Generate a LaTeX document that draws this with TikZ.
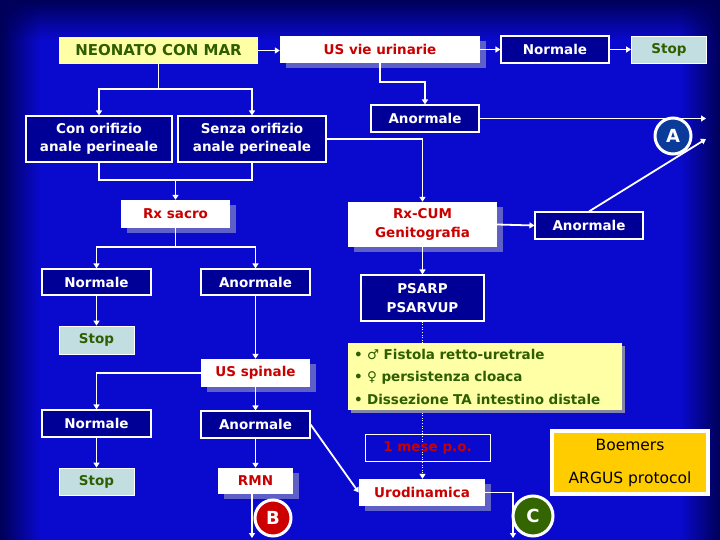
\documentclass[tikz,border=0pt]{standalone}
\usepackage{fontspec}
\setmainfont{DejaVu Sans}
\usepackage{tikz}
\usetikzlibrary{positioning,arrows.meta,shadows,fadings}
\definecolor{slidebg}{HTML}{0A0ACF}
\definecolor{slidedark}{HTML}{000058}
\definecolor{boxnavy}{HTML}{000096}
\definecolor{paleyel}{HTML}{FFFFA6}
\definecolor{stopcyan}{HTML}{C2DEE0}
\definecolor{txtred}{HTML}{C80000}
\definecolor{txtgreen}{HTML}{2E5E00}
\definecolor{shadowblue}{HTML}{5F5FC8}
\definecolor{shadowgray}{HTML}{8484A8}
\definecolor{boemgold}{HTML}{FFCC00}
\definecolor{discblue}{HTML}{0A3A9A}
\definecolor{discred}{HTML}{CC0000}
\definecolor{discgreen}{HTML}{336600}
\tikzfading[name=edgeleft, left color=transparent!0, right color=transparent!100]
\tikzfading[name=edgeright, left color=transparent!100, right color=transparent!0]
\tikzfading[name=edgetop, top color=transparent!0, bottom color=transparent!100]
\newcommand\boxfont{\bfseries\fontsize{13.5}{18.5}\selectfont}

\begin{document}
\begin{tikzpicture}[
    x=1pt, y=-1pt,
    navybox/.style={draw=white, line width=1.1pt, fill=boxnavy, text=white,
        font=\boxfont, align=center, minimum width=108pt, minimum height=27pt, inner sep=2pt},
    whitebox/.style={fill=white, text=txtred, font=\boxfont, align=center,
        minimum height=27pt, inner sep=2pt,
        drop shadow={shadow xshift=6pt, shadow yshift=-5pt, fill=shadowblue, opacity=1}},
    stopbox/.style={draw=white, line width=0.8pt, fill=stopcyan, text=txtgreen,
        font=\boxfont, minimum width=75pt, minimum height=27pt, inner sep=2pt},
    letterdisc/.style={circle, draw=white, line width=3pt, minimum size=36pt,
        text=white, font=\bfseries\fontsize{18}{20}\selectfont, inner sep=0pt},
    link/.style={draw=white, line width=1.8pt},
    flow/.style={link, -{Triangle[width=6pt,length=5pt]}}
]
\useasboundingbox (0,0) rectangle (720,540);
% slide background
\fill[slidebg] (0,0) rectangle (720,540);
\fill[slidedark, path fading=edgeleft] (0,0) rectangle (40,540);
\fill[slidedark, path fading=edgeright] (680,0) rectangle (720,540);
\fill[slidedark, path fading=edgetop] (0,0) rectangle (720,40);

% top row
\node[fill=paleyel, text=txtgreen, font=\bfseries\fontsize{15}{18}\selectfont,
      minimum width=199pt, minimum height=27pt] (neonato) at (158.5,50.5) {NEONATO CON MAR};
\node[whitebox, minimum width=200pt] (usvie) at (380,49.5) {US vie urinarie};
\node[navybox] (normtop) at (555,49.5) {Normale};
\node[stopbox] (stoptop) at (669,49.5) {Stop};
\node[navybox] (anortop) at (425,118.5) {Anormale};
\coordinate (aout) at (706,117);
\coordinate (aout2) at (706,139);

% left branch
\node[navybox, minimum width=146pt, minimum height=46pt] (conorif) at (99,139) {Con orifizio\\anale perineale};
\node[navybox, minimum width=148pt, minimum height=46pt] (senza) at (252,139) {Senza orifizio\\anale perineale};
\node[whitebox, minimum width=109pt, minimum height=28pt] (rxsacro) at (175.5,214) {Rx sacro};
\node[navybox, minimum width=109pt, minimum height=26pt] (norm3) at (96.5,282) {Normale};
\node[navybox, minimum width=109pt, minimum height=26pt] (anor3) at (255.5,282) {Anormale};
\node[stopbox, minimum height=28pt] (stop4) at (96.5,340) {Stop};
\node[whitebox, minimum width=109pt, minimum height=28pt] (usspin) at (255.5,373) {US spinale};
\node[navybox, minimum width=109pt] (norm5) at (96.5,423.5) {Normale};
\node[navybox, minimum width=109pt] (anor5) at (255.5,424.5) {Anormale};
\node[stopbox] (stop6) at (96.5,481.5) {Stop};
\node[whitebox, minimum width=75pt, minimum height=26pt] (rmn) at (255.5,481) {RMN};
\coordinate (bout) at (252,538);

% right branch
\node[whitebox, minimum width=149pt, minimum height=45pt] (rxcum) at (422.5,224.5) {Rx-CUM\\Genitografia};
\node[navybox] (anorR) at (589,225.5) {Anormale};
\node[navybox, minimum width=123pt, minimum height=46pt] (psarp) at (422.5,298) {PSARP\\PSARVUP};
\node[whitebox, minimum width=126pt] (urod) at (422,492.5) {Urodinamica};
\coordinate (cout) at (513,538);

\draw[white, line width=1.2pt, dash pattern=on 1pt off 1.6pt, -{Triangle[width=6pt,length=5pt]}]
    (psarp.south) -- (psarp.south |- urod.north);

\node[fill=paleyel, text=txtgreen, font=\bfseries\fontsize{13.5}{22.5}\selectfont,
      align=left, text width=262pt, inner sep=6pt, minimum height=67pt,
      drop shadow={shadow xshift=3pt, shadow yshift=-3pt, fill=shadowgray, opacity=1}]
      (surgery) at (485,376.5) {%
  • {\mdseries ♂} Fistola retto-uretrale\\
  • {\mdseries ♀} persistenza cloaca\\
  • Dissezione TA intestino distale};
\node[draw=white, line width=0.8pt, text=txtred, font=\boxfont,
      minimum width=125pt, minimum height=27pt] (mese) at (427.5,447.5) {1 mese p.o.};
\node[draw=white, line width=4pt, fill=boemgold, text=black, font=\fontsize{15.5}{33}\selectfont,
      align=center, minimum width=156pt, minimum height=63pt] (boemers) at (630,462.5) {Boemers\\ARGUS protocol};

% connectors
\draw[flow] (neonato.east) -- (neonato.east -| usvie.west);
\draw[flow] (usvie.east) -- (normtop.west);
\draw[flow] (normtop.east) -- (stoptop.west);
\draw[flow] (usvie.south) -- ++(0,19) -| (anortop.north);
\draw[flow] (anortop.east) -- (anortop.east -| aout);
\draw[flow] (anorR.north) -- (aout2);

\draw[link] (neonato.south) -- ++(0,25) coordinate (nsplit);
\draw[flow] (nsplit) -| (conorif.north);
\draw[flow] (nsplit) -| (senza.north);
\draw[flow] (senza.east) -| (rxcum.north);
\coordinate (rxjoin) at (rxsacro.north |- 0,180);
\draw[link] (conorif.south) |- (rxjoin) -| (senza.south);
\draw[flow] (rxjoin) -- (rxsacro.north);

\draw[link] (rxsacro.south) -- ++(0,19) coordinate (rsplit);
\draw[flow] (rsplit) -| (norm3.north);
\draw[flow] (rsplit) -| (anor3.north);
\draw[flow] (norm3.south) -- (stop4.north);
\draw[flow] (anor3.south) -- (usspin.north);
\draw[flow] (usspin.west) -| (norm5.north);
\draw[flow] (usspin.south) -- (anor5.north);
\draw[flow] (norm5.south) -- (stop6.north);
\draw[flow] (anor5.south) -- (rmn.north);
\draw[flow] (rmn.south -| bout) -- (bout);
\draw[flow] (anor5.east) -- (urod.west);

\draw[flow] (rxcum.east) -- (anorR.west);
\draw[flow] (rxcum.south) -- (psarp.north);
\draw[flow] (urod.east) -| (cout);

% route markers
\node[letterdisc, fill=discblue] (markA) at (673,136) {A};
\node[letterdisc, fill=discred] (markB) at (273,518) {B};
\node[letterdisc, fill=discgreen, minimum size=40pt] (markC) at (533,516) {C};
\end{tikzpicture}
\end{document}
